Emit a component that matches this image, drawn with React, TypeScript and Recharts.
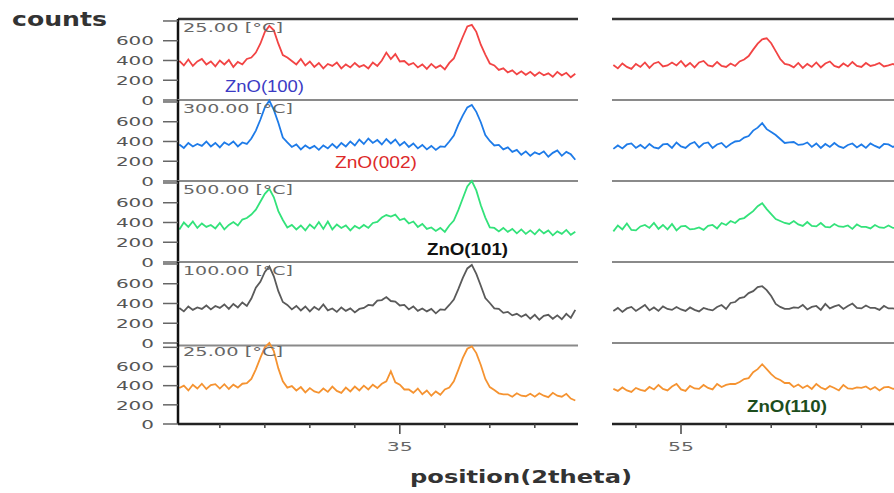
import { LineChart, Line, XAxis, YAxis, ReferenceLine } from "recharts";

// 2theta grid of each scan segment
const leftStart = 30.1;
const rightStart = 53.5;
const step = 0.1;

const temperatures = ["25.00 [°C]", "300.00 [°C]", "500.00 [°C]", "100.00 [°C]", "25.00 [°C]"];
const colors = ["#f24444", "#1e7be8", "#33e27a", "#5a5a5a", "#f59331"];

const leftTicks = [31, 32, 33, 34, 35, 36, 37, 38];
const rightTicks = [54, 55, 56, 57, 58, 59];
const labelledTicks = [35, 55];
const countTicks = [0, 200, 400, 600, 800];

// counts, 30.1 .. 38.9
const red25Left = [
  395, 350, 410, 345, 390, 415, 360, 390, 340, 400, 360, 405, 335, 385, 360, 415, 430,
  480, 570, 690, 750, 705, 570, 455, 430,
  395, 360, 415, 350, 390, 335, 375, 320, 365, 345, 380, 320, 360, 330, 375, 335, 355, 320, 380, 345, 400,
  480, 415, 465, 390, 395,
  355, 375, 330, 360, 315, 365, 325, 350, 310, 375,
  420, 530, 640, 745, 760, 690, 560, 460, 370, 350,
  305, 320, 280, 300, 260, 290, 255, 285, 245, 280, 250, 270, 235, 285, 250, 275, 230, 265,
];
const blue300Left = [
  370, 335, 385, 350, 375, 355, 400, 350, 385, 340, 390, 365, 400, 350, 390, 375, 430,
  510, 620, 745, 815, 720, 590, 440, 390,
  345, 370, 320, 360, 330, 355, 315, 360, 330, 375, 335, 385, 350, 400, 360, 420, 375, 430, 385, 415, 370,
  425, 380, 420, 360, 395,
  345, 380, 330, 365, 320, 355, 315, 350, 345, 400,
  460, 570, 665, 745, 770, 700, 595, 465, 405, 360,
  365, 320, 340, 295, 315, 265, 300, 255, 290, 270, 300, 245, 285, 310, 255, 295, 270, 215,
];
const green500Left = [
  330, 400, 355, 410, 345, 390, 355, 375, 340, 395, 330, 375, 405, 370, 430, 445, 480,
  530, 610, 690, 740, 655, 515, 425, 350,
  375, 330, 370, 320, 380, 340, 405, 335, 410, 330, 380, 345, 370, 320, 365, 340, 375, 345, 395, 405, 450,
  475, 460, 480, 425, 440,
  390, 410, 355, 385, 335, 350, 315, 345, 305, 370,
  420, 525, 645, 765, 820, 725, 575, 450, 350, 345,
  310, 345, 305, 335, 290, 330, 285, 320, 280, 330, 290, 320, 270, 310, 285, 325, 275, 305,
];
const gray100Left = [
  355, 320, 370, 335, 360, 345, 380, 340, 375, 355, 390, 345, 395, 360, 410, 375, 450,
  560, 620, 720, 775, 675, 525, 415, 385,
  340, 375, 330, 370, 320, 365, 335, 390, 330, 350, 315, 360, 325, 350, 310, 345, 355, 385, 380, 430, 435,
  465, 425, 420, 380, 385,
  340, 370, 325, 350, 320, 345, 300, 340, 335, 385,
  440, 545, 660, 755, 790, 700, 580, 455, 405, 350,
  345, 305, 315, 280, 295, 265, 290, 245, 285, 235, 275, 285, 245, 280, 240, 295, 255, 335,
];
const orange25Left = [
  375, 400, 350, 410, 370, 420, 365, 405, 415, 370, 415, 365, 410, 380, 420, 425, 470,
  570, 690, 800, 845, 760, 580, 445, 380,
  395, 350, 385, 330, 375, 340, 325, 370, 335, 390, 345, 325, 380, 340, 390, 350, 400, 360, 410, 375, 420,
  445, 550, 435, 410, 360,
  360, 325, 370, 310, 350, 295, 340, 305, 360, 380,
  445, 565, 690, 785, 810, 740, 615, 470, 385, 355,
  320, 310, 310, 285, 320, 295, 290, 315, 285, 320, 295, 280, 325, 295, 285, 315, 265, 245,
];

// counts, 53.5 .. 59.8
const red25Right = [
  355, 320, 370, 335, 315, 365, 335, 380, 325, 370, 385, 340, 350, 380, 350, 395, 340, 375, 330, 380,
  395, 350, 340, 385, 345, 335, 370, 345, 390, 410,
  445, 510, 570, 615, 625, 575, 495, 415, 365,
  355, 330, 375, 325, 365, 335, 380, 330, 370, 390, 345, 330, 370, 340, 385, 345, 335, 375, 345, 355,
  375, 340, 350, 365, 340,
];
const blue300Right = [
  325, 360, 330, 370, 380, 335, 365, 330, 375, 340, 330, 370, 375, 335, 390, 350, 335, 375, 395, 340,
  380, 390, 335, 370, 385, 340, 375, 400, 405, 440,
  455, 510, 540, 585, 525, 495, 465, 425, 385,
  390, 395, 365, 370, 390, 345, 380, 335, 375, 345, 385, 350, 335, 365, 380, 340, 370, 335, 380, 355,
  335, 375, 370, 345, 365,
];
const green500Right = [
  310, 370, 330, 390, 325, 320, 360, 375, 345, 395, 335, 375, 330, 385, 320, 360, 365, 330, 335, 350,
  325, 365, 375, 340, 395, 375, 415, 395, 435, 445,
  480, 515, 565, 595, 535, 485, 435, 415, 395,
  385, 415, 380, 365, 405, 365, 360, 395, 355, 350, 385, 360, 355, 370, 335, 380, 355, 355, 340, 375,
  350, 345, 370, 345, 350,
];
const gray100Right = [
  325, 355, 315, 350, 365, 325, 355, 385, 330, 360, 325, 370, 345, 335, 365, 340, 325, 360, 335, 320,
  355, 340, 330, 365, 385, 345, 405, 415, 455, 465,
  505, 525, 565, 575, 535, 475, 395, 365, 345,
  345, 360, 355, 385, 340, 365, 375, 335, 395, 350, 370, 385, 345, 375, 400, 355, 350, 380, 355, 355,
  335, 375, 350, 350, 345,
];
const orange25Right = [
  355, 335, 370, 340, 325, 365, 345, 335, 375, 350, 395, 355, 340, 380, 405, 350, 335, 385, 360, 355,
  395, 365, 350, 405, 375, 395, 405, 405, 425, 455,
  465, 525, 555, 605, 555, 505, 465, 445, 415,
  415, 375, 400, 365, 390, 355, 405, 370, 350, 385, 365, 340, 395, 360, 355, 370, 365, 380, 350, 375,
  340, 370, 375, 355, 365,
];

const leftSeries = [red25Left, blue300Left, green500Left, gray100Left, orange25Left];
const rightSeries = [red25Right, blue300Right, green500Right, gray100Right, orange25Right];

const toPoints = (start: number, values: number[]) =>
  values.map((v, i) => ({ x: +(start + i * step).toFixed(2), y: v }));

const TOP = 19;
const PANEL_H = 81;
const PAD = 8;
const Y_W = 90;
const LEFT_X = 178;
const LEFT_W = 400;
const RIGHT_X = 612;
const RIGHT_W = 290;
const AXIS_H = 40;
const FONT = "DejaVu Sans";

const YTick = (props: any) => {
  const { x, y, payload } = props;
  if (payload.value === 800) return <g />;
  const s = String(payload.value);
  return (
    <text x={x} y={y} dy="0.36em" textAnchor="end" fontSize={13} fill="#555" fontFamily={FONT}
      textLength={12.7 * s.length} lengthAdjust="spacingAndGlyphs">
      {s}
    </text>
  );
};

const XTick = (props: any) => {
  const { x, y, payload } = props;
  const major = labelledTicks.includes(payload.value);
  const s = String(payload.value);
  return (
    <g>
      <line x1={x} x2={x} y1={y} y2={y + (major ? 10 : 4)} stroke="#444" strokeWidth={1.5} />
      {major && (
        <text x={x} y={y + 27} textAnchor="middle" fontSize={13} fill="#666" fontFamily={FONT}
          textLength={13 * s.length} lengthAdjust="spacingAndGlyphs">
          {s}
        </text>
      )}
    </g>
  );
};

const Panel = ({ side, index }: { side: "left" | "right"; index: number }) => {
  const isLeft = side === "left";
  const last = index === 4;
  const data = isLeft ? toPoints(leftStart, leftSeries[index]) : toPoints(rightStart, rightSeries[index]);
  return (
    <div style={{ position: "absolute", left: isLeft ? LEFT_X - Y_W : RIGHT_X, top: TOP + index * PANEL_H - PAD }}>
      <LineChart
        width={isLeft ? Y_W + LEFT_W : RIGHT_W}
        height={PANEL_H + PAD + (last ? AXIS_H : PAD)}
        data={data}
        margin={{ top: PAD, right: 0, bottom: last ? 0 : PAD, left: 0 }}
      >
        <XAxis
          type="number"
          dataKey="x"
          domain={isLeft ? [30.07, 38.96] : [53.47, 59.9]}
          allowDataOverflow
          ticks={isLeft ? leftTicks : rightTicks}
          interval={0}
          hide={!last}
          height={AXIS_H}
          tickSize={0}
          tickMargin={0}
          tickLine={false}
          axisLine={{ stroke: "#222", strokeWidth: 2.5 }}
          tick={<XTick />}
        />
        <YAxis
          domain={[0, 820]}
          ticks={countTicks}
          interval={0}
          hide={!isLeft}
          width={Y_W}
          tickSize={15}
          tickMargin={9}
          axisLine={{ stroke: "#111", strokeWidth: 2.5 }}
          tickLine={{ stroke: "#666", strokeWidth: 1.5 }}
          tick={<YTick />}
        />
        <ReferenceLine
          y={820}
          stroke={index === 0 ? "#333" : "#8a8a8a"}
          strokeWidth={index === 0 ? 2.5 : 2}
        />
        <Line
          type="linear"
          dataKey="y"
          stroke={colors[index]}
          strokeWidth={1.8}
          dot={false}
          isAnimationActive={false}
        />
      </LineChart>
    </div>
  );
};

const peaks = [
  { text: "ZnO(100)", x: 225, y: 92, w: 79, color: "#3b3bc4", bold: false },
  { text: "ZnO(002)", x: 335, y: 168, w: 82, color: "#dd2a2a", bold: false },
  { text: "ZnO(101)", x: 427, y: 255, w: 81, color: "#111", bold: true },
  { text: "ZnO(110)", x: 747, y: 412, w: 80, color: "#1d4d1d", bold: true },
];

export default function App() {
  return (
    <div style={{ position: "absolute", left: 0, top: 0, width: 894, height: 493, overflow: "hidden", background: "#fff" }}>
      {[0, 1, 2, 3, 4].map((i) => (
        <Panel key={"l" + i} side="left" index={i} />
      ))}
      {[0, 1, 2, 3, 4].map((i) => (
        <Panel key={"r" + i} side="right" index={i} />
      ))}
      <svg width={894} height={493} style={{ position: "absolute", left: 0, top: 0, pointerEvents: "none" }}>
        <text x={12} y={26} fontSize={19} fontWeight="bold" fill="#333" fontFamily={FONT}
          textLength={95} lengthAdjust="spacingAndGlyphs">counts</text>
        {temperatures.map((t, i) => (
          <text key={i} x={183} y={TOP + i * PANEL_H + 13} fontSize={13} fill="#666" fontFamily={FONT}
            textLength={t.length === 10 ? 100 : 110} lengthAdjust="spacingAndGlyphs">
            {t}
          </text>
        ))}
        {peaks.map((p) => (
          <text key={p.text} x={p.x} y={p.y} fontSize={16} fill={p.color} fontWeight={p.bold ? "bold" : "normal"}
            fontFamily="Liberation Sans" textLength={p.w} lengthAdjust="spacingAndGlyphs">
            {p.text}
          </text>
        ))}
        <text x={410} y={483} fontSize={17} fontWeight="bold" fill="#333" fontFamily={FONT}
          textLength={222} lengthAdjust="spacingAndGlyphs">position(2theta)</text>
      </svg>
    </div>
  );
}
